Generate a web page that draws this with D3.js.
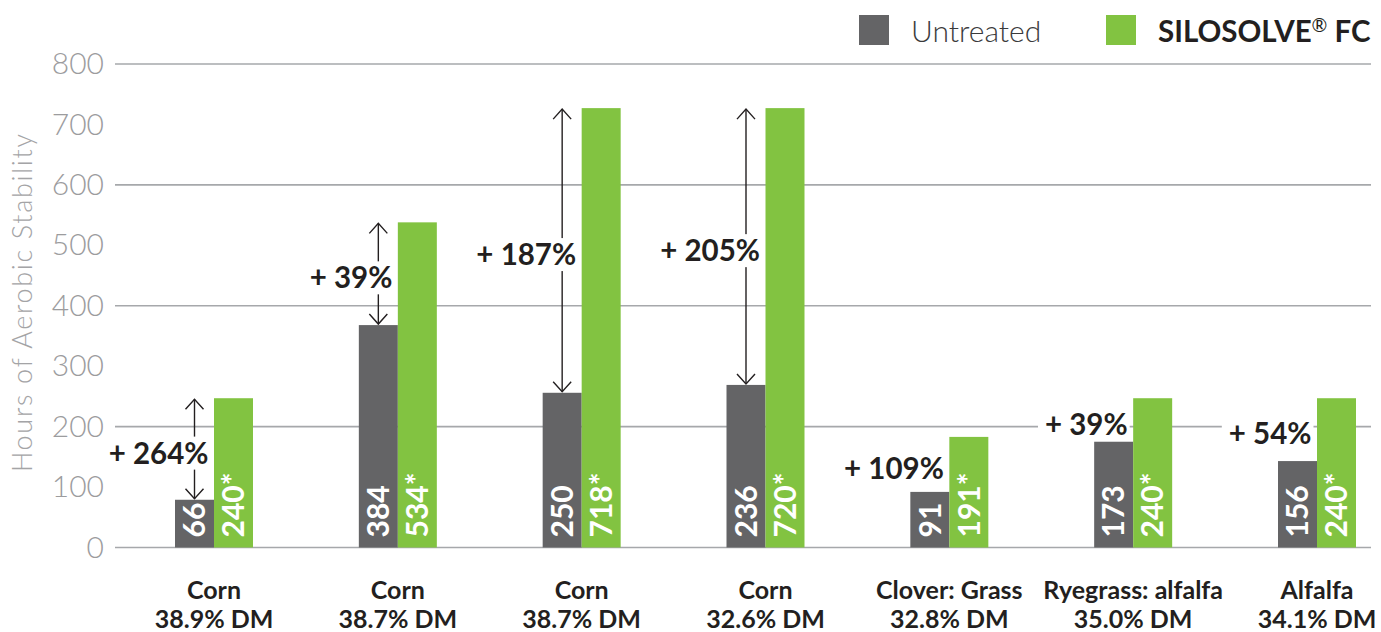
<!DOCTYPE html>
<html>
<head>
<meta charset="utf-8">
<script src="https://cdn.jsdelivr.net/npm/d3@7"></script>
<style>
  html, body { margin: 0; padding: 0; background: #fff; }
  svg { display: block; font-family: Lato, "Open Sans", sans-serif; }
</style>
</head>
<body>
<div id="chart"></div>
<script>
// crop / dry matter labels under each group
var cropNames = ["Corn", "Corn", "Corn", "Corn", "Clover: Grass", "Ryegrass: alfalfa", "Alfalfa"]
var dmLabels = ["38.9% DM", "38.7% DM", "38.7% DM", "32.6% DM", "32.8% DM", "35.0% DM", "34.1% DM"]

// bar heights as drawn in the picture (hours)
var untreatedHours = [79, 368, 256, 269, 92, 175, 143]
var treatedHours = [247, 538, 727, 727, 183, 247, 247]

// printed values inside the bars
var untreatedLabels = ["66", "384", "250", "236", "91", "173", "156"]
var treatedLabels = ["240*", "534*", "718*", "720*", "191*", "240*", "240*"]

var gainLabels = ["+ 264%", "+ 39%", "+ 187%", "+ 205%", "+ 109%", "+ 39%", "+ 54%"]
var hasArrow = [true, true, true, true, false, false, false]

var yTicks = [0, 100, 200, 300, 400, 500, 600, 700, 800]
var gridTicks = [0, 200, 400, 600, 800]

var seriesNames = ["Untreated", "SILOSOLVE"]
var seriesColors = ["#646466", "#82c341"]

function draw_chart(config) {
    var width = config.width || 1381
    var height = config.height || 632

    var svg = d3.select(config.placeholder).append("svg")
        .attr("width", width)
        .attr("height", height)

    var idx = d3.range(cropNames.length)

    var x = d3.scalePoint()
        .domain(idx)
        .range([214, 1317])

    var sub = d3.scaleBand()
        .domain(seriesNames)
        .range([-39, 39])

    var y = d3.scaleLinear()
        .domain([0, 800])
        .range([547.5, 64])

    var ink = "#231f20"

    // gridlines
    svg.append("g").selectAll("line")
        .data(gridTicks)
        .enter().append("line")
        .attr("x1", 115).attr("x2", 1371)
        .attr("y1", function (d) { return y(d) })
        .attr("y2", function (d) { return y(d) })
        .attr("stroke", "#a6a8ab")
        .attr("stroke-width", 1.6)

    // y axis labels
    var yAxis = d3.axisLeft(y).tickValues(yTicks).tickSize(0).tickPadding(11)
    var ag = svg.append("g")
        .attr("transform", "translate(115,0)")
        .call(yAxis)
    ag.select(".domain").remove()
    ag.selectAll("text")
        .attr("fill", "#9c9c9e")
        .style("font-size", "30px")
        .style("font-weight", 300)
        .style("font-family", "Lato, sans-serif")

    svg.append("text")
        .attr("transform", "translate(32,303) rotate(-90)")
        .attr("text-anchor", "middle")
        .attr("fill", "#a4a4a6")
        .attr("textLength", 338)
        .attr("lengthAdjust", "spacing")
        .style("font-size", "27px")
        .style("font-weight", 300)
        .text("Hours of Aerobic Stability")

    // arrows
    var arrows = svg.append("g")
        .attr("stroke", ink)
        .attr("stroke-width", 1.4)
        .attr("fill", "none")
    idx.filter(function (i) { return hasArrow[i] }).forEach(function (i) {
        var ax = x(i) + sub("Untreated") + sub.bandwidth() / 2
        var yt = y(treatedHours[i]) + 1
        var yb = y(untreatedHours[i]) - 1
        arrows.append("line")
            .attr("x1", ax).attr("x2", ax)
            .attr("y1", yt).attr("y2", yb)
        arrows.append("path")
            .attr("d", "M" + (ax - 9) + "," + (yt + 10) + "L" + ax + "," + yt + "L" + (ax + 9) + "," + (yt + 10))
        arrows.append("path")
            .attr("d", "M" + (ax - 9) + "," + (yb - 10) + "L" + ax + "," + yb + "L" + (ax + 9) + "," + (yb - 10))
    })

    // gain labels with knock-out background
    var gains = svg.append("g")
    idx.forEach(function (i) {
        var ax = x(i) + sub("Untreated") + sub.bandwidth() / 2
        var mid = (y(treatedHours[i]) + y(untreatedHours[i])) / 2 + 4
        var g = gains.append("g")
        var bg = g.append("rect").attr("fill", "#fff")
        var t = g.append("text")
            .attr("x", ax + 14)
            .attr("y", mid)
            .attr("dy", "0.36em")
            .attr("text-anchor", "end")
            .attr("fill", ink)
            .style("font-size", "29.5px")
            .style("font-weight", 700)
            .text(gainLabels[i])
        var bb = t.node().getBBox()
        bg.attr("x", bb.x - 7).attr("y", bb.y + 2)
            .attr("width", bb.width + 9).attr("height", bb.height - 2)
    })

    // bars
    var groups = svg.append("g").selectAll("g")
        .data(idx)
        .enter().append("g")
        .attr("transform", function (i) { return "translate(" + x(i) + ",0)" })

    groups.append("rect")
        .attr("x", sub("Untreated"))
        .attr("width", sub.bandwidth())
        .attr("y", function (i) { return y(untreatedHours[i]) })
        .attr("height", function (i) { return y(0) - y(untreatedHours[i]) })
        .attr("fill", seriesColors[0])

    groups.append("rect")
        .attr("x", sub("SILOSOLVE"))
        .attr("width", sub.bandwidth())
        .attr("y", function (i) { return y(treatedHours[i]) })
        .attr("height", function (i) { return y(0) - y(treatedHours[i]) })
        .attr("fill", seriesColors[1])

    // values inside bars
    function barText(sel, key, labels) {
        sel.append("text")
            .attr("transform", function () {
                var cx = sub(key) + sub.bandwidth() / 2
                return "translate(" + cx + "," + (y(0) - 10) + ") rotate(-90)"
            })
            .attr("dy", "0.36em")
            .attr("fill", "#fff")
            .style("font-size", "30px")
            .style("font-weight", 700)
            .text(function (i) { return labels[i] })
    }
    barText(groups, "Untreated", untreatedLabels)
    barText(groups, "SILOSOLVE", treatedLabels)

    // category labels
    var cat = groups.append("text")
        .attr("text-anchor", "middle")
        .attr("fill", ink)
        .style("font-size", "25px")
        .style("font-weight", 700)
    cat.append("tspan").attr("x", 0).attr("y", 599)
        .text(function (i) { return cropNames[i] })
    cat.append("tspan").attr("x", 0).attr("y", 628)
        .text(function (i) { return dmLabels[i] })

    // legend
    var leg = svg.append("g")
    leg.append("rect").attr("x", 859).attr("y", 15).attr("width", 30).attr("height", 30)
        .attr("fill", seriesColors[0])
    leg.append("text").attr("x", 911).attr("y", 41.5)
        .attr("fill", "#3a3a3c")
        .style("font-size", "30px")
        .style("font-weight", 300)
        .text("Untreated")
    leg.append("rect").attr("x", 1106).attr("y", 15).attr("width", 30).attr("height", 30)
        .attr("fill", seriesColors[1])
    var lt = leg.append("text").attr("x", 1158).attr("y", 41.5)
        .attr("fill", ink)
        .style("font-size", "29.5px")
        .style("font-weight", 700)
    lt.append("tspan").text("SILOSOLVE")
    lt.append("tspan").attr("dy", "-10").style("font-size", "19px").style("font-weight", 400).text("®")
    lt.append("tspan").attr("dy", "10").text(" FC")
}

var config = {}
config.placeholder = "#chart"

draw_chart(config)
</script>
</body>
</html>
